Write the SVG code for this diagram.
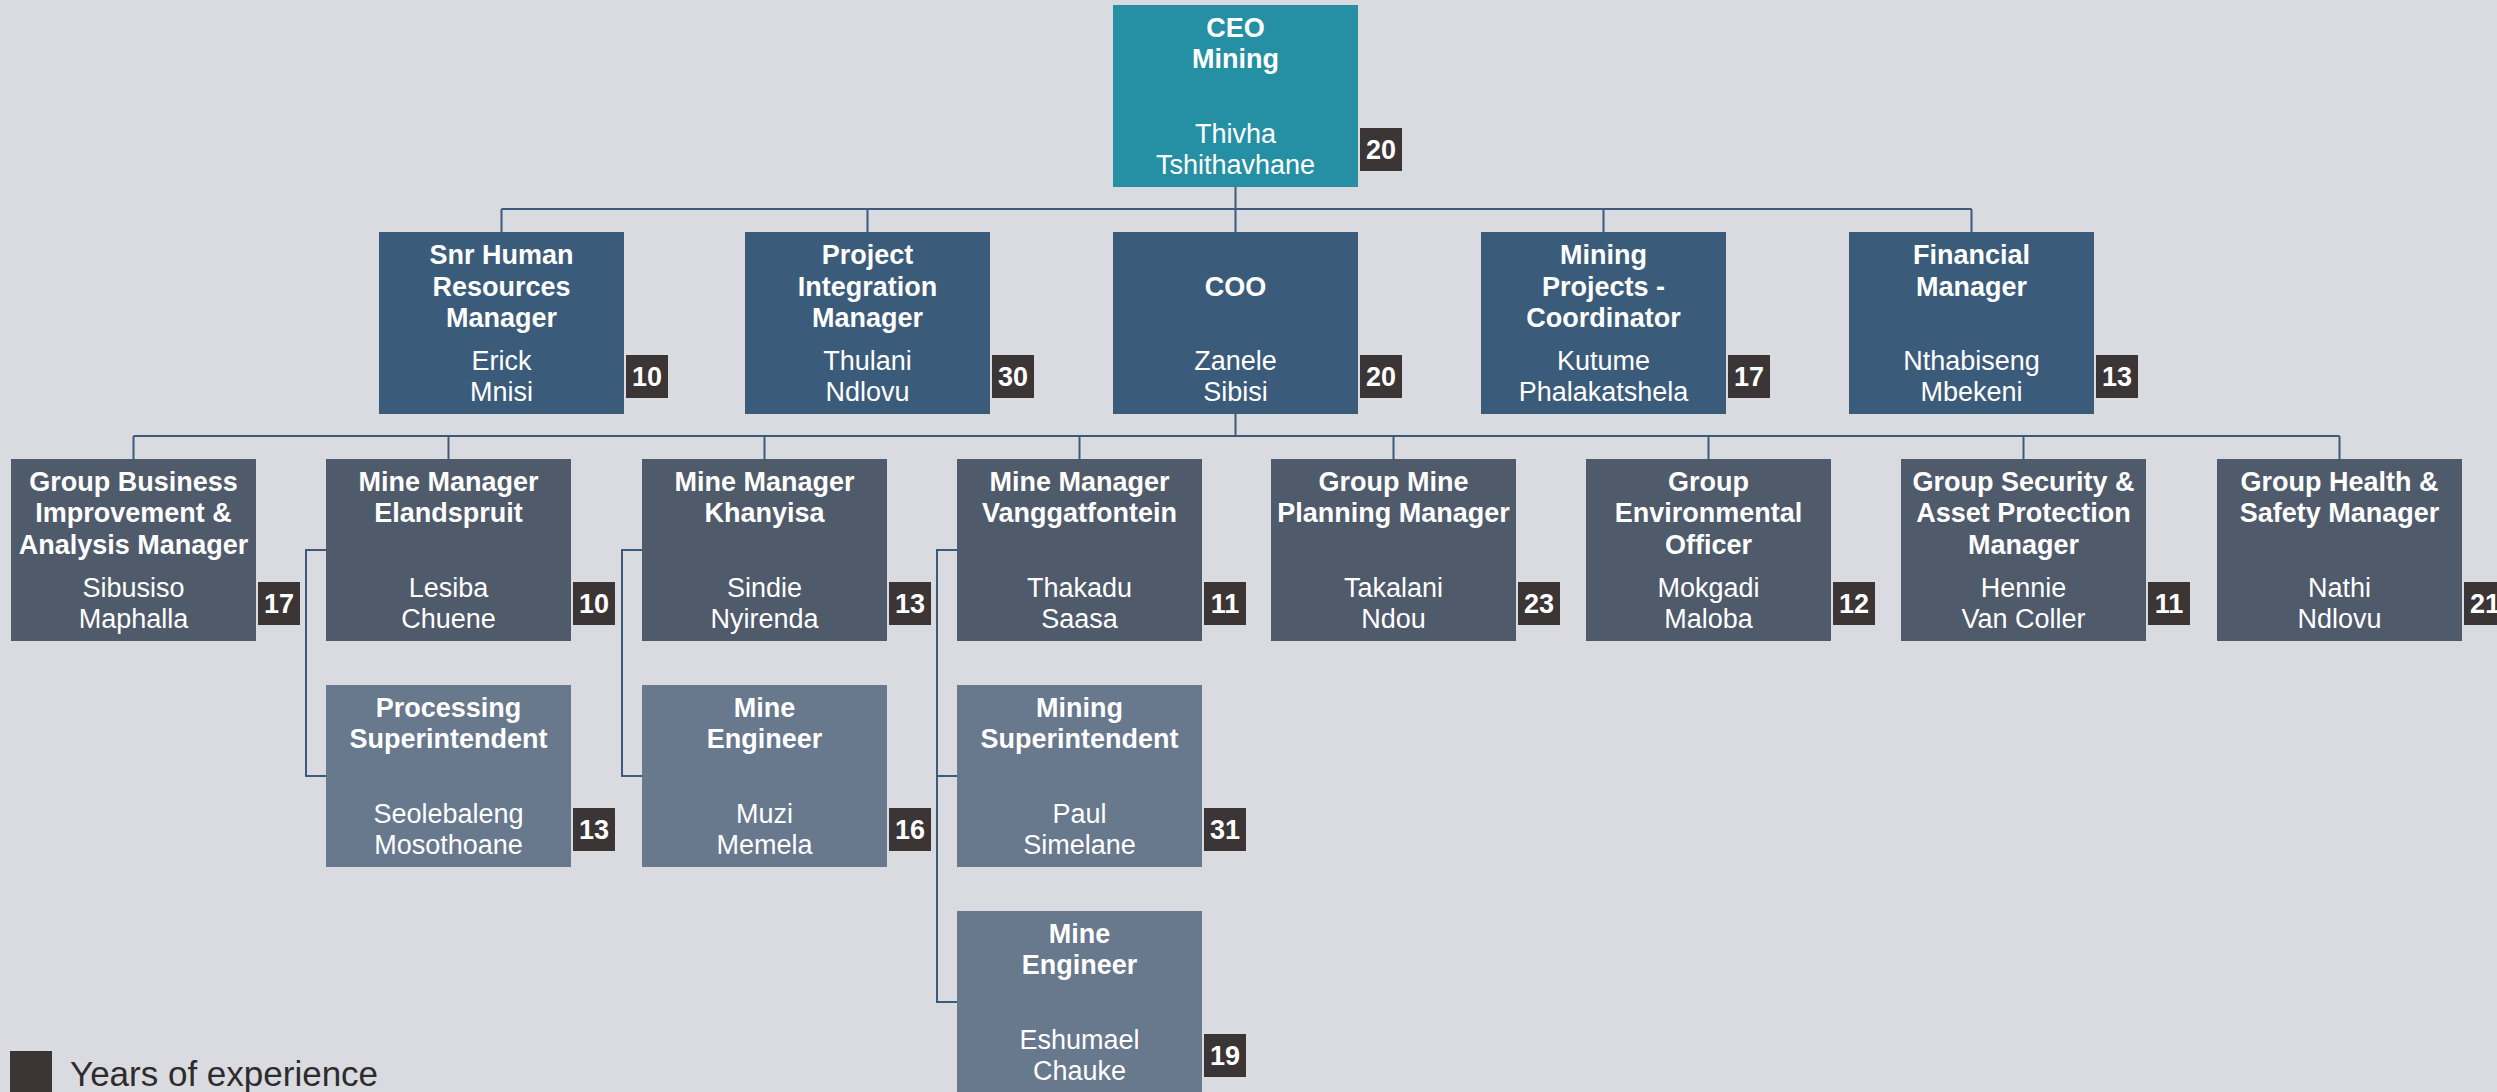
<svg xmlns="http://www.w3.org/2000/svg" width="2497" height="1092" viewBox="0 0 2497 1092">
<style>
.bg{fill:#dadbe0}
.ceo{fill:#2590a3}
.l2{fill:#3b5b7b}
.l3{fill:#4f5a6b}
.l4{fill:#68788d}
.bd{fill:#3b3536}
.t{font-family:"Liberation Sans",Arial,sans-serif;font-size:27px;font-weight:bold;fill:#ffffff;text-anchor:middle}
.n{font-family:"Liberation Sans",Arial,sans-serif;font-size:27px;fill:#ffffff;text-anchor:middle}
.b{font-family:"Liberation Sans",Arial,sans-serif;font-size:27px;font-weight:bold;fill:#ffffff;text-anchor:middle}
.lg{font-family:"Liberation Sans",Arial,sans-serif;font-size:35px;fill:#2e2c2d}
.c{fill:none;stroke:#3c5a7a;stroke-width:2}
</style>
<rect class="bg" x="0" y="0" width="2497" height="1092"/>
<g id="connectors">
<path class="c" d="M1235.5 187V209M501.5 209H1971.5M501.5 209V232M867.5 209V232M1235.5 209V232M1603.5 209V232M1971.5 209V232"/>
<path class="c" d="M1235.5 414V436M133.5 436H2339.5M133.5 436V459M448.5 436V459M764.5 436V459M1079.5 436V459M1393.5 436V459M1708.5 436V459M2023.5 436V459M2339.5 436V459"/>
<path class="c" d="M326 550H306V776H326M642 550H622V776H642M957 550H937V1002H957M937 776H957"/>
</g>
<g id="ceo">
<rect class="ceo" x="1113" y="5" width="245" height="182"/>
<text class="t" x="1235.5" y="37">CEO</text>
<text class="t" x="1235.5" y="68">Mining</text>
<text class="n" x="1235.5" y="143">Thivha</text>
<text class="n" x="1235.5" y="174">Tshithavhane</text>
<rect class="bd" x="1360" y="128" width="42" height="43"/>
<text class="b" x="1381" y="159">20</text>
</g>
<g id="snr-hr">
<rect class="l2" x="379" y="232" width="245" height="182"/>
<text class="t" x="501.5" y="264">Snr Human</text>
<text class="t" x="501.5" y="296">Resources</text>
<text class="t" x="501.5" y="327">Manager</text>
<text class="n" x="501.5" y="370">Erick</text>
<text class="n" x="501.5" y="401">Mnisi</text>
<rect class="bd" x="626" y="355" width="42" height="43"/>
<text class="b" x="647" y="386">10</text>
</g>
<g id="project-integration">
<rect class="l2" x="745" y="232" width="245" height="182"/>
<text class="t" x="867.5" y="264">Project</text>
<text class="t" x="867.5" y="296">Integration</text>
<text class="t" x="867.5" y="327">Manager</text>
<text class="n" x="867.5" y="370">Thulani</text>
<text class="n" x="867.5" y="401">Ndlovu</text>
<rect class="bd" x="992" y="355" width="42" height="43"/>
<text class="b" x="1013" y="386">30</text>
</g>
<g id="coo">
<rect class="l2" x="1113" y="232" width="245" height="182"/>
<text class="t" x="1235.5" y="296">COO</text>
<text class="n" x="1235.5" y="370">Zanele</text>
<text class="n" x="1235.5" y="401">Sibisi</text>
<rect class="bd" x="1360" y="355" width="42" height="43"/>
<text class="b" x="1381" y="386">20</text>
</g>
<g id="mining-projects">
<rect class="l2" x="1481" y="232" width="245" height="182"/>
<text class="t" x="1603.5" y="264">Mining</text>
<text class="t" x="1603.5" y="296">Projects -</text>
<text class="t" x="1603.5" y="327">Coordinator</text>
<text class="n" x="1603.5" y="370">Kutume</text>
<text class="n" x="1603.5" y="401">Phalakatshela</text>
<rect class="bd" x="1728" y="355" width="42" height="43"/>
<text class="b" x="1749" y="386">17</text>
</g>
<g id="financial">
<rect class="l2" x="1849" y="232" width="245" height="182"/>
<text class="t" x="1971.5" y="264">Financial</text>
<text class="t" x="1971.5" y="296">Manager</text>
<text class="n" x="1971.5" y="370">Nthabiseng</text>
<text class="n" x="1971.5" y="401">Mbekeni</text>
<rect class="bd" x="2096" y="355" width="42" height="43"/>
<text class="b" x="2117" y="386">13</text>
</g>
<g id="group-business">
<rect class="l3" x="11" y="459" width="245" height="182"/>
<text class="t" x="133.5" y="491">Group Business</text>
<text class="t" x="133.5" y="522">Improvement &amp;</text>
<text class="t" x="133.5" y="554">Analysis Manager</text>
<text class="n" x="133.5" y="597">Sibusiso</text>
<text class="n" x="133.5" y="628">Maphalla</text>
<rect class="bd" x="258" y="582" width="42" height="43"/>
<text class="b" x="279" y="613">17</text>
</g>
<g id="elandspruit">
<rect class="l3" x="326" y="459" width="245" height="182"/>
<text class="t" x="448.5" y="491">Mine Manager</text>
<text class="t" x="448.5" y="522">Elandspruit</text>
<text class="n" x="448.5" y="597">Lesiba</text>
<text class="n" x="448.5" y="628">Chuene</text>
<rect class="bd" x="573" y="582" width="42" height="43"/>
<text class="b" x="594" y="613">10</text>
</g>
<g id="khanyisa">
<rect class="l3" x="642" y="459" width="245" height="182"/>
<text class="t" x="764.5" y="491">Mine Manager</text>
<text class="t" x="764.5" y="522">Khanyisa</text>
<text class="n" x="764.5" y="597">Sindie</text>
<text class="n" x="764.5" y="628">Nyirenda</text>
<rect class="bd" x="889" y="582" width="42" height="43"/>
<text class="b" x="910" y="613">13</text>
</g>
<g id="vanggatfontein">
<rect class="l3" x="957" y="459" width="245" height="182"/>
<text class="t" x="1079.5" y="491">Mine Manager</text>
<text class="t" x="1079.5" y="522">Vanggatfontein</text>
<text class="n" x="1079.5" y="597">Thakadu</text>
<text class="n" x="1079.5" y="628">Saasa</text>
<rect class="bd" x="1204" y="582" width="42" height="43"/>
<text class="b" x="1225" y="613">11</text>
</g>
<g id="mine-planning">
<rect class="l3" x="1271" y="459" width="245" height="182"/>
<text class="t" x="1393.5" y="491">Group Mine</text>
<text class="t" x="1393.5" y="522">Planning Manager</text>
<text class="n" x="1393.5" y="597">Takalani</text>
<text class="n" x="1393.5" y="628">Ndou</text>
<rect class="bd" x="1518" y="582" width="42" height="43"/>
<text class="b" x="1539" y="613">23</text>
</g>
<g id="environmental">
<rect class="l3" x="1586" y="459" width="245" height="182"/>
<text class="t" x="1708.5" y="491">Group</text>
<text class="t" x="1708.5" y="522">Environmental</text>
<text class="t" x="1708.5" y="554">Officer</text>
<text class="n" x="1708.5" y="597">Mokgadi</text>
<text class="n" x="1708.5" y="628">Maloba</text>
<rect class="bd" x="1833" y="582" width="42" height="43"/>
<text class="b" x="1854" y="613">12</text>
</g>
<g id="security">
<rect class="l3" x="1901" y="459" width="245" height="182"/>
<text class="t" x="2023.5" y="491">Group Security &amp;</text>
<text class="t" x="2023.5" y="522">Asset Protection</text>
<text class="t" x="2023.5" y="554">Manager</text>
<text class="n" x="2023.5" y="597">Hennie</text>
<text class="n" x="2023.5" y="628">Van Coller</text>
<rect class="bd" x="2148" y="582" width="42" height="43"/>
<text class="b" x="2169" y="613">11</text>
</g>
<g id="health-safety">
<rect class="l3" x="2217" y="459" width="245" height="182"/>
<text class="t" x="2339.5" y="491">Group Health &amp;</text>
<text class="t" x="2339.5" y="522">Safety Manager</text>
<text class="n" x="2339.5" y="597">Nathi</text>
<text class="n" x="2339.5" y="628">Ndlovu</text>
<rect class="bd" x="2464" y="582" width="42" height="43"/>
<text class="b" x="2485" y="613">21</text>
</g>
<g id="processing">
<rect class="l4" x="326" y="685" width="245" height="182"/>
<text class="t" x="448.5" y="717">Processing</text>
<text class="t" x="448.5" y="748">Superintendent</text>
<text class="n" x="448.5" y="823">Seolebaleng</text>
<text class="n" x="448.5" y="854">Mosothoane</text>
<rect class="bd" x="573" y="808" width="42" height="43"/>
<text class="b" x="594" y="839">13</text>
</g>
<g id="mine-engineer-k">
<rect class="l4" x="642" y="685" width="245" height="182"/>
<text class="t" x="764.5" y="717">Mine</text>
<text class="t" x="764.5" y="748">Engineer</text>
<text class="n" x="764.5" y="823">Muzi</text>
<text class="n" x="764.5" y="854">Memela</text>
<rect class="bd" x="889" y="808" width="42" height="43"/>
<text class="b" x="910" y="839">16</text>
</g>
<g id="mining-superintendent">
<rect class="l4" x="957" y="685" width="245" height="182"/>
<text class="t" x="1079.5" y="717">Mining</text>
<text class="t" x="1079.5" y="748">Superintendent</text>
<text class="n" x="1079.5" y="823">Paul</text>
<text class="n" x="1079.5" y="854">Simelane</text>
<rect class="bd" x="1204" y="808" width="42" height="43"/>
<text class="b" x="1225" y="839">31</text>
</g>
<g id="mine-engineer-v">
<rect class="l4" x="957" y="911" width="245" height="182"/>
<text class="t" x="1079.5" y="943">Mine</text>
<text class="t" x="1079.5" y="974">Engineer</text>
<text class="n" x="1079.5" y="1049">Eshumael</text>
<text class="n" x="1079.5" y="1080">Chauke</text>
<rect class="bd" x="1204" y="1034" width="42" height="43"/>
<text class="b" x="1225" y="1065">19</text>
</g>
<g id="legend">
<rect class="bd" x="10" y="1051" width="42" height="45"/>
<text class="lg" x="70" y="1086">Years of experience</text>
</g>
</svg>
